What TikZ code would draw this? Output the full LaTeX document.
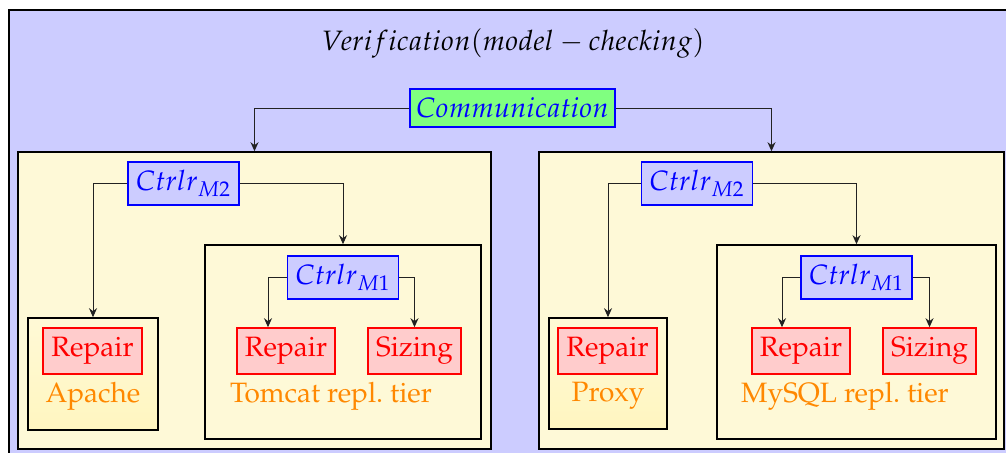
\documentclass[tikz,border=0pt]{standalone}
\usepackage[T1]{fontenc}
\usepackage{mathpazo}
\usepackage{xcolor}
\usepackage{tikz}
\usetikzlibrary{arrows.meta,positioning,calc}
\definecolor{ink}{HTML}{222222}
\definecolor{outerbg}{HTML}{CCCCFF}
\definecolor{tierbg}{HTML}{FEF9D7}
\definecolor{hosttop}{HTML}{FFF9D6}
\definecolor{hostbot}{HTML}{FFF6C0}
\definecolor{labelorange}{HTML}{FF8800}
\tikzset{
  >={Stealth[length=4.5pt,width=4pt]},
  every node/.style={font=\fontsize{14}{16}\selectfont},
  outerbox/.style={draw=black,thick,fill=outerbg},
  tierbox/.style={draw=black,thick,fill=tierbg,minimum width=#1,inner sep=0pt},
  hostbox/.style={draw=black,thick,top color=hosttop,bottom color=hostbot,inner sep=0pt},
  commbox/.style={draw=blue,thick,fill=green!50,text=blue,minimum width=102.5pt,minimum height=19pt,inner sep=1pt},
  ctrlbox/.style={draw=blue,thick,fill=blue!20,text=blue,minimum width=55.5pt,minimum height=21.5pt,inner sep=1pt},
  actbox/.style={draw=red,thick,fill=red!20,text=red,minimum height=23pt,inner sep=1pt},
  tiername/.style={text=labelorange,inner sep=0pt},
  link/.style={->,draw=ink,line width=0.5pt}
}

\begin{document}
\begin{tikzpicture}[x=0.5pt,y=-0.5pt]
  \useasboundingbox (0,0) rectangle (1006,452);
  \draw[outerbox] (9,10) rectangle (1030,470);
  \node (title) at (513,43) {$Verification(model-checking)$};
  \node[commbox] (comm) at (512.5,108) {$Communication$};

  % left tier
  \node[tierbox=236.5pt,minimum height=148.5pt] (ltier) at (254.5,300.5) {};
  \node[ctrlbox] (lm2) at (183.5,183.5) {$Ctrlr_{M2}$};
  \node[hostbox,minimum width=65pt,minimum height=56pt] (apache) at (93,374) {};
  \node[actbox,minimum width=49.5pt] (aprep) at (92.5,351) {Repair};
  \node[tiername] (apname) at (93,396) {Apache};
  \node[tierbox=138pt,minimum height=97pt] (tomcat) at (343,342) {};
  \node[ctrlbox] (tm1) at (343,277.5) {$Ctrlr_{M1}$};
  \node[actbox,minimum width=49pt] (tmrep) at (286,351) {Repair};
  \node[actbox,minimum width=46.5pt] (tmsiz) at (414.5,351) {Sizing};
  \node[tiername] (tmname) at (331,396) {Tomcat repl.\ tier};

  % right tier
  \node[tierbox=232.5pt,minimum height=148.5pt] (rtier) at (771.5,300.5) {};
  \node[ctrlbox] (rm2) at (697,183.5) {$Ctrlr_{M2}$};
  \node[hostbox,minimum width=59pt,minimum height=55.5pt] (proxy) at (608,373.5) {};
  \node[actbox,minimum width=49.5pt] (pxrep) at (607.5,351) {Repair};
  \node[tiername] (pxname) at (608,396) {Proxy};
  \node[tierbox=139.5pt,minimum height=97pt] (mysql) at (856.5,342) {};
  \node[ctrlbox] (mm1) at (856.5,277.5) {$Ctrlr_{M1}$};
  \node[actbox,minimum width=49pt] (msrep) at (801,351) {Repair};
  \node[actbox,minimum width=46.5pt] (mssiz) at (929.5,351) {Sizing};
  \node[tiername] (msname) at (845,396) {MySQL repl.\ tier};

  \draw[link] (comm.west) -| (ltier.north);
  \draw[link] (comm.east) -| (rtier.north);
  \draw[link] (lm2.west) -| (apache.north);
  \draw[link] (lm2.east) -| (tomcat.north);
  \draw[link] (tm1.west) -| ([xshift=-9pt]tmrep.north);
  \draw[link] (tm1.east) -| (tmsiz.north);
  \draw[link] (rm2.west) -| (proxy.north);
  \draw[link] (rm2.east) -| (mysql.north);
  \draw[link] (mm1.west) -| ([xshift=-9.5pt]msrep.north);
  \draw[link] (mm1.east) -| (mssiz.north);
\end{tikzpicture}
\end{document}
